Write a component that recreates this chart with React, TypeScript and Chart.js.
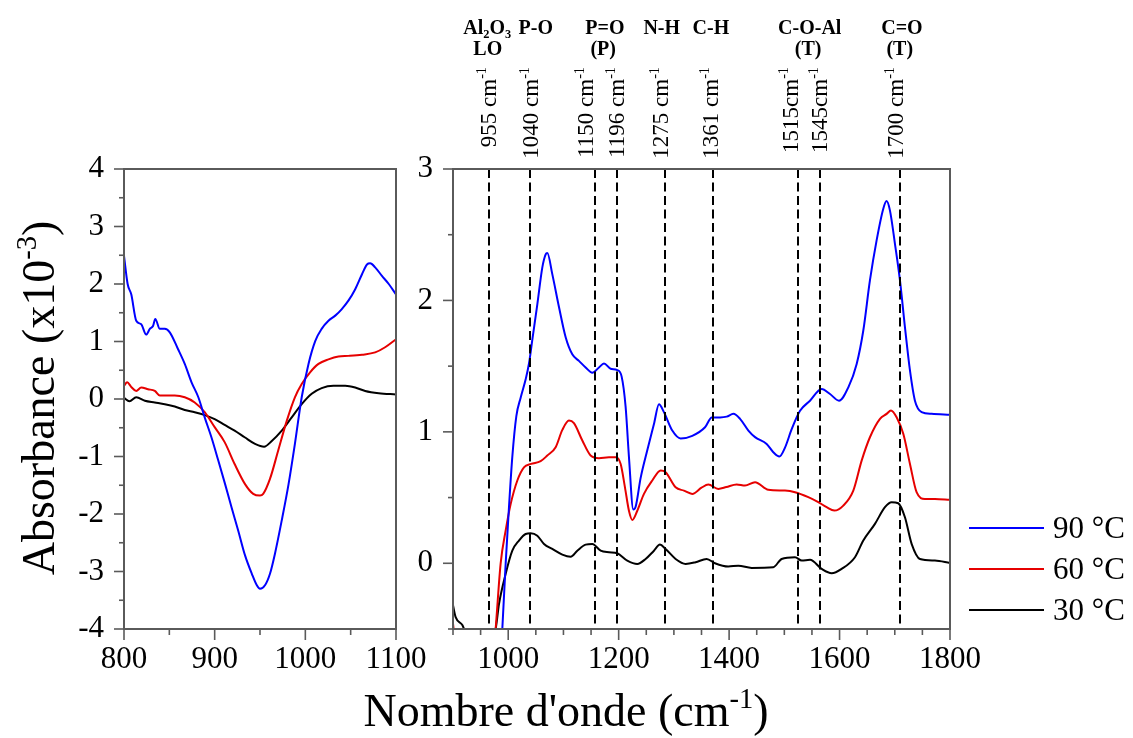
import React, { useEffect, useRef } from 'react';
import { Chart, registerables } from 'chart.js';

Chart.register(...registerables);

const FONT = '"Liberation Serif", "Times New Roman", Times, serif';
const W = 1133;
const H = 738;
const AXIS = '#5a5a5a';

// ---------- Left panel: 800–1100 cm-1, absorbance ×10^-3 ----------
const leftWave90 = [800, 804, 808, 813.5, 819, 824.5, 828.5, 832, 834.5, 839.5, 845, 850.5, 859.5, 867, 874.5, 882, 889, 896.5, 904, 911.5, 918.5, 926, 933.5, 941, 946.5, 950, 955.5, 961, 966.5, 974, 981.5, 988.5, 996, 1003.5, 1011, 1018, 1025.5, 1033, 1040, 1047.5, 1055, 1062.5, 1068, 1071.5, 1077, 1084.5, 1092, 1100];
const leftAbs90 = [2.49, 2.0, 1.82, 1.36, 1.30, 1.12, 1.22, 1.27, 1.39, 1.22, 1.22, 1.16, 0.87, 0.61, 0.29, 0.03, -0.32, -0.67, -1.07, -1.48, -1.88, -2.29, -2.72, -3.04, -3.24, -3.30, -3.24, -3.04, -2.69, -2.11, -1.48, -0.78, 0.03, 0.61, 1.01, 1.22, 1.36, 1.45, 1.56, 1.71, 1.91, 2.17, 2.34, 2.36, 2.29, 2.14, 2.0, 1.82];

const leftWave60 = [800, 803.5, 808, 813.5, 819, 826.5, 834, 839.5, 845, 856, 867, 878, 889, 900, 911, 922, 933.5, 942.5, 950, 953.5, 961, 970, 979.5, 988.5, 996, 1005, 1014.5, 1025.5, 1036.5, 1047.5, 1062.5, 1077, 1088, 1100];
const leftAbs60 = [0.23, 0.29, 0.21, 0.14, 0.20, 0.17, 0.14, 0.06, 0.06, 0.06, 0.03, -0.06, -0.23, -0.49, -0.75, -1.13, -1.48, -1.65, -1.68, -1.65, -1.39, -0.90, -0.38, 0.03, 0.26, 0.46, 0.61, 0.69, 0.74, 0.75, 0.77, 0.81, 0.90, 1.04];

const leftWave30 = [800, 806, 813.5, 823, 834, 845, 856, 867, 878, 889, 900, 911, 922, 933.5, 944.5, 954.5, 963, 974, 985, 996, 1007, 1018, 1031, 1044, 1055, 1066, 1081, 1100];
const leftAbs30 = [0.02, -0.04, 0.03, -0.03, -0.06, -0.09, -0.13, -0.19, -0.23, -0.28, -0.35, -0.45, -0.55, -0.67, -0.78, -0.83, -0.73, -0.55, -0.32, -0.09, 0.09, 0.19, 0.23, 0.23, 0.20, 0.14, 0.10, 0.08];

// ---------- Right panel: 900–1800 cm-1 ----------
const rightWave90 = [983, 989.3, 995.4, 1001.4, 1007.4, 1014.7, 1022.5, 1031.6, 1037.6, 1043.6, 1052.7, 1061.7, 1067.8, 1070.8, 1079.8, 1091.9, 1104, 1116, 1128.1, 1140.2, 1152.3, 1164.3, 1173.4, 1185.5, 1197.5, 1205.4, 1212.6, 1218.6, 1226.5, 1230.7, 1239.8, 1251.8, 1263.9, 1273, 1282, 1297.1, 1312.2, 1333.3, 1356.4, 1368.6, 1383.6, 1395.7, 1407.8, 1419.8, 1434.9, 1447, 1468, 1480, 1491, 1501.2, 1513.3, 1528.4, 1546.5, 1567.6, 1582.7, 1599, 1615.9, 1631, 1643, 1655, 1667.1, 1679.2, 1685.2, 1691.2, 1700.3, 1709.4, 1718.4, 1727.5, 1736.5, 1748.6, 1766.7, 1800];
const rightAbs90 = [-1.1, -0.5, 0.0, 0.43, 0.81, 1.12, 1.26, 1.40, 1.52, 1.70, 1.97, 2.25, 2.35, 2.36, 2.20, 1.95, 1.72, 1.59, 1.54, 1.49, 1.45, 1.49, 1.52, 1.48, 1.47, 1.42, 1.19, 0.81, 0.41, 0.43, 0.65, 0.86, 1.06, 1.21, 1.15, 1.01, 0.95, 0.97, 1.035, 1.11, 1.11, 1.116, 1.137, 1.099, 1.01, 0.96, 0.908, 0.845, 0.812, 0.88, 1.02, 1.16, 1.237, 1.326, 1.288, 1.237, 1.339, 1.517, 1.771, 2.152, 2.457, 2.698, 2.756, 2.685, 2.431, 2.152, 1.797, 1.467, 1.237, 1.15, 1.137, 1.13];

const rightWave60 = [900, 903, 950, 972, 977.2, 986.3, 995.4, 1004.4, 1016.5, 1028.5, 1041.2, 1058.7, 1070.8, 1085.9, 1098, 1110, 1119, 1134.2, 1149.2, 1164.3, 1182.4, 1194.5, 1203.6, 1211.4, 1218.6, 1224.7, 1233.7, 1245.8, 1260.9, 1276, 1285, 1303.1, 1318.2, 1333.3, 1350, 1362.3, 1380.5, 1395, 1413.7, 1428.8, 1446.9, 1471, 1501.2, 1519.3, 1543.4, 1561.5, 1576.6, 1590.5, 1606.8, 1624.9, 1640, 1655, 1673.2, 1685.2, 1693.1, 1703.3, 1715.4, 1727.5, 1739.5, 1754.6, 1772.7, 1800];
const rightAbs60 = [-0.46, -0.56, -1.0, -0.75, -0.5, 0.0, 0.25, 0.45, 0.63, 0.73, 0.756, 0.777, 0.82, 0.883, 1.015, 1.086, 1.066, 0.934, 0.82, 0.80, 0.807, 0.807, 0.756, 0.578, 0.40, 0.33, 0.40, 0.528, 0.63, 0.706, 0.693, 0.578, 0.553, 0.528, 0.575, 0.599, 0.566, 0.58, 0.599, 0.591, 0.617, 0.559, 0.553, 0.541, 0.503, 0.465, 0.427, 0.401, 0.439, 0.553, 0.781, 0.959, 1.099, 1.137, 1.163, 1.111, 0.985, 0.756, 0.541, 0.49, 0.49, 0.483];

const rightWave30 = [900, 904.8, 916.9, 919.9, 945, 977.2, 983.3, 995.4, 1007.4, 1019.5, 1031.6, 1040.6, 1052.7, 1064.8, 1079.8, 1098, 1113, 1125.1, 1140.2, 1152.3, 1167.4, 1182.4, 1197.5, 1215.6, 1233.7, 1248.8, 1263.9, 1274.8, 1285, 1303.1, 1321.2, 1339.3, 1359.3, 1374.4, 1398.6, 1416.7, 1440.8, 1480, 1495.1, 1519.3, 1531.4, 1546.5, 1567.6, 1585.7, 1603.8, 1627.9, 1643, 1664.1, 1682.2, 1694.3, 1706.3, 1718.4, 1730.5, 1745.6, 1772.7, 1800];
const rightAbs30 = [-0.32, -0.41, -0.47, -0.5, -0.8, -0.5, -0.31, -0.08, 0.096, 0.173, 0.223, 0.228, 0.21, 0.147, 0.109, 0.066, 0.05, 0.096, 0.142, 0.147, 0.096, 0.084, 0.076, 0.02, -0.005, 0.033, 0.096, 0.142, 0.109, 0.033, -0.005, 0.008, 0.033, 0.0, -0.025, -0.018, -0.035, -0.03, 0.033, 0.046, 0.021, 0.026, -0.043, -0.076, -0.043, 0.046, 0.173, 0.3, 0.427, 0.465, 0.457, 0.35, 0.148, 0.033, 0.021, 0.003];

// ---------- Ticks ----------
const leftXTicks = [800, 850, 900, 950, 1000, 1050, 1100];
const leftXLabels = [800, 900, 1000, 1100];
const leftYTicks = [-4, -3.5, -3, -2.5, -2, -1.5, -1, -0.5, 0, 0.5, 1, 1.5, 2, 2.5, 3, 3.5, 4];
const leftYLabels = [-4, -3, -2, -1, 0, 1, 2, 3, 4];
const rightXTicks = [900, 950, 1000, 1050, 1100, 1150, 1200, 1250, 1300, 1350, 1400, 1450, 1500, 1550, 1600, 1650, 1700, 1750, 1800];
const rightXLabels = [1000, 1200, 1400, 1600, 1800];
const rightYTicks = [-0.5, 0, 0.5, 1, 1.5, 2, 2.5, 3];
const rightYLabels = [0, 1, 2, 3];

// ---------- Series / annotations ----------
const seriesNames = ['90 °C', '60 °C', '30 °C'];
const seriesColors = ['#0000ff', '#e60000', '#000000'];

const peakLineAt = [965, 1040, 1157, 1197, 1284, 1371, 1525, 1564, 1710];
const peakText = ['955 cm', '1040 cm', '1150 cm', '1196 cm', '1275 cm', '1361 cm', '1515cm', '1545cm', '1700 cm'];
const peakTextAt = [963, 1040, 1139, 1196, 1275, 1366, 1510, 1563, 1701];

type Seg = { t: string; k?: 'sup' | 'sub' };
const bondRow1: Seg[][] = [
  [{ t: 'Al' }, { t: '2', k: 'sub' }, { t: 'O' }, { t: '3', k: 'sub' }],
  [{ t: 'P-O' }],
  [{ t: 'P=O' }],
  [{ t: 'N-H' }],
  [{ t: 'C-H' }],
  [{ t: 'C-O-Al' }],
  [{ t: 'C=O' }],
];
const bondRow1At = [962, 1050, 1175, 1278, 1367, 1546, 1713];
const bondRow2 = ['LO', '(P)', '(T)', '(T)'];
const bondRow2At = [963, 1172, 1543, 1709];

const yTitle: Seg[] = [{ t: 'Absorbance (x10' }, { t: '-3', k: 'sup' }, { t: ')' }];
const xTitle: Seg[] = [{ t: "Nombre d'onde (cm" }, { t: '-1', k: 'sup' }, { t: ')' }];

const xy = (xs: number[], ys: number[]) => xs.map((x, i) => ({ x, y: ys[i] }));

function fontStr(size: number, weight: string) {
  return `${weight} ${size}px ${FONT}`;
}

function drawRich(ctx: CanvasRenderingContext2D, segs: Seg[], x: number, y: number, size: number, weight: string, align: 'left' | 'center' | 'right') {
  const sizes = segs.map((s) => (s.k ? size * 0.62 : size));
  let total = 0;
  segs.forEach((s, i) => {
    ctx.font = fontStr(sizes[i], weight);
    total += ctx.measureText(s.t).width;
  });
  let cx = align === 'left' ? x : align === 'center' ? x - total / 2 : x - total;
  ctx.textAlign = 'left';
  ctx.textBaseline = 'alphabetic';
  segs.forEach((s, i) => {
    ctx.font = fontStr(sizes[i], weight);
    const dy = s.k === 'sup' ? -size * 0.4 : s.k === 'sub' ? size * 0.22 : 0;
    ctx.fillText(s.t, cx, y + dy);
    cx += ctx.measureText(s.t).width;
  });
}

function axisCfg(pos: 'left' | 'bottom', min: number, max: number, ticks: number[], labels: number[], size: number) {
  return {
    type: 'linear' as const,
    position: pos,
    min,
    max,
    afterBuildTicks: (s: any) => {
      s.ticks = ticks.map((v) => ({ value: v }));
    },
    afterFit: (s: any) => {
      if (pos === 'left') s.width = size;
      else s.height = size;
    },
    ticks: {
      autoSkip: false,
      maxRotation: 0,
      minRotation: 0,
      padding: pos === 'left' ? 10 : 2,
      color: '#000',
      font: { family: FONT, size: 31 },
      callback: (v: any) => (labels.includes(Number(v)) ? String(v) : ''),
    },
    grid: { display: false, drawTicks: true, tickLength: 10 },
    border: { display: false },
  };
}

const framePlugin = {
  id: 'frame',
  afterDraw(chart: any) {
    const { ctx, chartArea: a } = chart;
    const xs = chart.scales.x;
    const ys = chart.scales.y;
    ctx.save();
    ctx.strokeStyle = AXIS;
    ctx.lineWidth = 2;
    ctx.strokeRect(a.left, a.top, a.right - a.left, a.bottom - a.top);
    ctx.lineWidth = 1.6;
    xs.ticks.forEach((t: any) => {
      const p = xs.getPixelForValue(t.value);
      const len = t.label ? 11 : 6;
      ctx.beginPath();
      ctx.moveTo(p, a.bottom);
      ctx.lineTo(p, a.bottom + len);
      ctx.stroke();
    });
    ys.ticks.forEach((t: any) => {
      const p = ys.getPixelForValue(t.value);
      const len = t.label ? 10 : 5;
      ctx.beginPath();
      ctx.moveTo(a.left - len, p);
      ctx.lineTo(a.left, p);
      ctx.stroke();
    });
    ctx.restore();
  },
};

const leftTitlePlugin = {
  id: 'leftTitle',
  afterDraw(chart: any) {
    const ctx = chart.ctx as CanvasRenderingContext2D;
    ctx.save();
    ctx.fillStyle = '#000';
    ctx.translate(54, 398);
    ctx.rotate(-Math.PI / 2);
    drawRich(ctx, yTitle, 0, 0, 46, 'normal', 'center');
    ctx.restore();
  },
};

const rightAnnotPlugin = {
  id: 'rightAnnot',
  afterDatasetsDraw(chart: any) {
    const { ctx, chartArea: a } = chart;
    const xs = chart.scales.x;
    ctx.save();
    ctx.strokeStyle = '#000';
    ctx.lineWidth = 2;
    ctx.setLineDash([9, 4.5]);
    peakLineAt.forEach((v) => {
      const p = Math.round(xs.getPixelForValue(v));
      ctx.beginPath();
      ctx.moveTo(p, a.top);
      ctx.lineTo(p, a.bottom);
      ctx.stroke();
    });
    ctx.restore();
  },
  afterDraw(chart: any) {
    const ctx = chart.ctx as CanvasRenderingContext2D;
    const xs = chart.scales.x;
    ctx.save();
    ctx.fillStyle = '#000';
    peakText.forEach((txt, i) => {
      const p = xs.getPixelForValue(peakTextAt[i]);
      ctx.save();
      ctx.translate(p, 67);
      ctx.rotate(-Math.PI / 2);
      drawRich(ctx, [{ t: txt }, { t: '-1', k: 'sup' }], 0, 7.8, 23, 'normal', 'right');
      ctx.restore();
    });
    bondRow1.forEach((segs, i) => {
      drawRich(ctx, segs, xs.getPixelForValue(bondRow1At[i]), 34, 20, 'bold', 'center');
    });
    bondRow2.forEach((txt, i) => {
      drawRich(ctx, [{ t: txt }], xs.getPixelForValue(bondRow2At[i]), 55, 20, 'bold', 'center');
    });
    chart.data.datasets.forEach((ds: any, i: number) => {
      const y = 528 + i * 41;
      ctx.strokeStyle = ds.borderColor;
      ctx.lineWidth = 2;
      ctx.beginPath();
      ctx.moveTo(969, y);
      ctx.lineTo(1044, y);
      ctx.stroke();
      ctx.fillStyle = '#000';
      drawRich(ctx, [{ t: ds.label }], 1053, y + 10, 31, 'normal', 'left');
    });
    drawRich(ctx, xTitle, 566, 726, 46, 'normal', 'center');
    ctx.restore();
  },
};

function makeDatasets(waves: number[][], abs: number[][]) {
  return waves.map((w, i) => ({
    label: seriesNames[i],
    data: xy(w, abs[i]),
    borderColor: seriesColors[i],
    backgroundColor: seriesColors[i],
    borderWidth: 2,
    pointRadius: 0,
    cubicInterpolationMode: 'monotone' as const,
    fill: false,
    borderJoinStyle: 'round' as const,
  }));
}

export default function App() {
  const leftRef = useRef<HTMLCanvasElement | null>(null);
  const rightRef = useRef<HTMLCanvasElement | null>(null);

  useEffect(() => {
    const common = {
      animation: false as const,
      responsive: false,
      maintainAspectRatio: false,
      devicePixelRatio: 1,
      events: [] as any[],
    };
    const left = new Chart(leftRef.current as HTMLCanvasElement, {
      type: 'line',
      data: {
        datasets: makeDatasets([leftWave90, leftWave60, leftWave30], [leftAbs90, leftAbs60, leftAbs30]) as any,
      },
      options: {
        ...common,
        layout: { padding: { top: 169, right: W - 396, left: 0, bottom: 0 } },
        plugins: { legend: { display: false }, tooltip: { enabled: false }, title: { display: false } },
        scales: {
          x: axisCfg('bottom', 800, 1100, leftXTicks, leftXLabels, H - 629) as any,
          y: axisCfg('left', -4, 4, leftYTicks, leftYLabels, 124) as any,
        },
      },
      plugins: [framePlugin, leftTitlePlugin],
    });
    const right = new Chart(rightRef.current as HTMLCanvasElement, {
      type: 'line',
      data: {
        datasets: makeDatasets([rightWave90, rightWave60, rightWave30], [rightAbs90, rightAbs60, rightAbs30]) as any,
      },
      options: {
        ...common,
        layout: { padding: { top: 169, right: W - 950, left: 0, bottom: 0 } },
        plugins: { legend: { display: false }, tooltip: { enabled: false }, title: { display: false } },
        scales: {
          x: axisCfg('bottom', 900, 1800, rightXTicks, rightXLabels, H - 629) as any,
          y: axisCfg('left', -0.5, 3, rightYTicks, rightYLabels, 453) as any,
        },
      },
      plugins: [framePlugin, rightAnnotPlugin],
    });
    return () => {
      left.destroy();
      right.destroy();
    };
  }, []);

  const cs: React.CSSProperties = { position: 'absolute', left: 0, top: 0, width: W, height: H };
  return (
    <div style={{ position: 'absolute', left: 0, top: 0, width: W, height: H, background: '#fff' }}>
      <canvas ref={rightRef} width={W} height={H} style={cs} />
      <canvas ref={leftRef} width={W} height={H} style={cs} />
    </div>
  );
}
